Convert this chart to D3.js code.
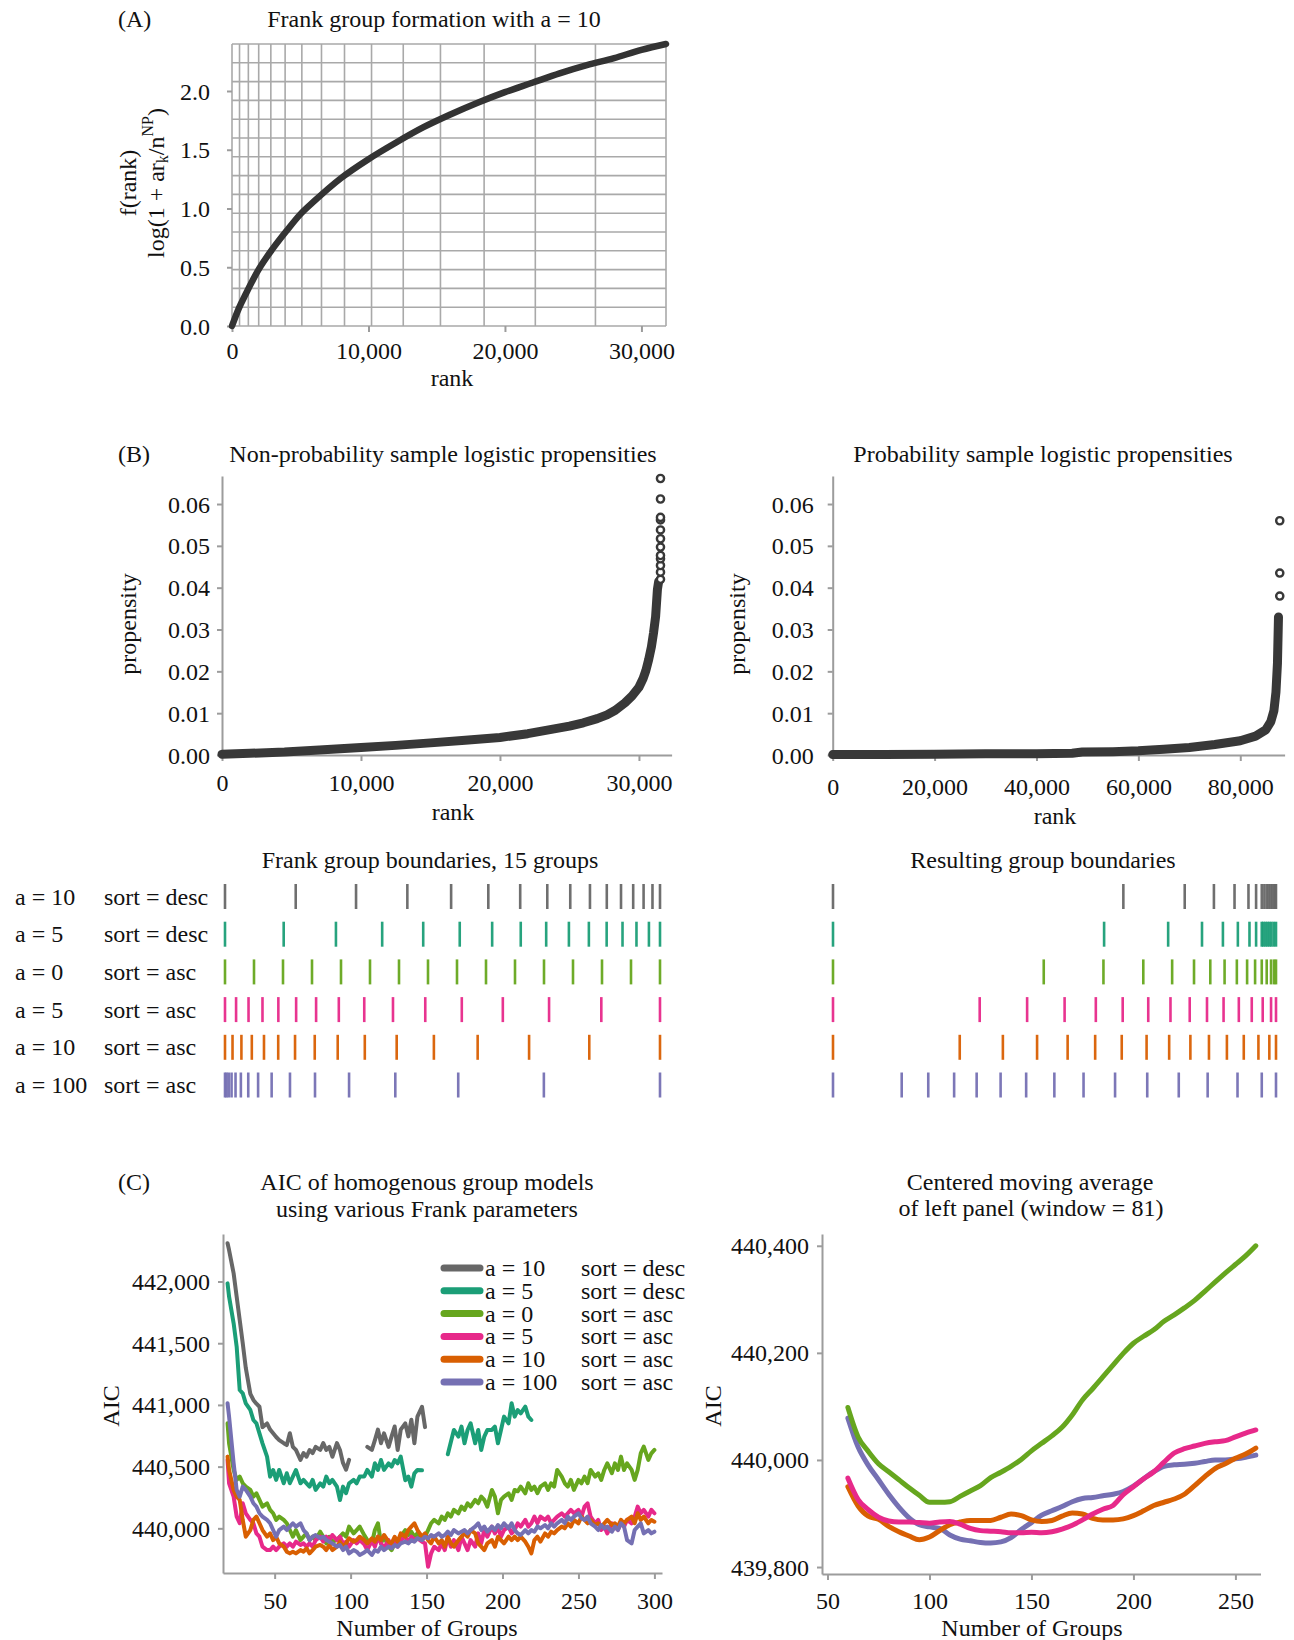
<!DOCTYPE html>
<html><head><meta charset="utf-8">
<script src="https://cdn.jsdelivr.net/npm/d3@7"></script>
<style>
body{margin:0;background:#fff;}
svg text{font-family:"Liberation Serif","Times New Roman",Times,serif;fill:#111;}
</style></head><body>
<svg id="chart" width="1294" height="1640" xmlns="http://www.w3.org/2000/svg"></svg>
<script>
// ---------------- DATA ----------------
// Panel A: Frank curve f(rank) = log(1 + a r / n), a = 10
const frankCurveRank = [0,500,1000,2000,3000,4000,5000,6000,8000,10000,12000,14000,16000,18000,20000,22000,24000,26000,28000,30000,31800];
const frankCurveF    = [0,0.15,0.27,0.49,0.66,0.81,0.95,1.06,1.26,1.42,1.56,1.69,1.80,1.90,1.99,2.07,2.15,2.22,2.28,2.35,2.40];
const gridRankA = [0,551,1198,1956,2846,3892,5117,6557,8243,10224,12548,15274,18473,22225,26629,31800];
const gridFA = [0,0.16,0.32,0.48,0.64,0.80,0.96,1.12,1.28,1.44,1.60,1.76,1.92,2.08,2.24,2.40];
const ticksAX = [0,10000,20000,30000];
const ticksAY = [0,0.5,1.0,1.5,2.0];

// Panel B: propensity scatter (band anchors + isolated outliers)
const npRank = [0,2000,4500,7000,10000,12500,15000,17500,20000,22000,23000,24000,25000,26000,27000,27700,28300,29000,29500,30000,30300,30500,30700,30900,31050,31200,31330,31420];
const npProp = [0.0002,0.0004,0.0007,0.0012,0.0018,0.0023,0.0029,0.0035,0.0042,0.0051,0.0057,0.0063,0.0069,0.0077,0.0087,0.0096,0.0107,0.0125,0.0141,0.0162,0.0183,0.0202,0.0228,0.0259,0.0292,0.0331,0.0396,0.0415];
const npOutlierProp = [0.0420,0.0437,0.0453,0.0469,0.0477,0.0497,0.0517,0.0538,0.0562,0.0568,0.0612,0.0661];
const npOutlierRank = 31550;
const pRank = [0,10000,20000,30000,40000,47000,49000,55000,60000,65000,70000,75000,80000,83000,85000,86000,86600,87000,87300,87500];
const pProp = [0.0001,0.0001,0.0002,0.0003,0.0003,0.0004,0.0007,0.0008,0.0010,0.0014,0.0018,0.0025,0.0034,0.0045,0.0060,0.0080,0.0106,0.0150,0.0220,0.0330];
const pOutlierProp = [0.0380,0.0435,0.0560];
const pOutlierRank = 87750;
const ticksBY = [0,0.01,0.02,0.03,0.04,0.05,0.06];
const ticksBLX = [0,10000,20000,30000];
const ticksBRX = [0,20000,40000,60000,80000];

// Group boundary strips (ranks)
const seriesA = ["a = 10","a = 5","a = 0","a = 5","a = 10","a = 100"];
const seriesSort = ["sort = desc","sort = desc","sort = asc","sort = asc","sort = asc","sort = asc"];
const seriesColor = ["#676767","#1b9e77","#66a61e","#e7298a","#d95f02","#7570b3"];
const frankBounds = [
  [0,5170,9580,13330,16530,19250,21580,23560,25240,26680,27910,28950,29840,30600,31250,31800],
  [0,4290,8110,11490,14490,17160,19530,21620,23480,25140,26600,27900,29060,30080,30990,31800],
  [0,2120,4240,6360,8480,10600,12720,14840,16960,19080,21200,23320,25440,27560,29680,31800],
  [0,810,1720,2740,3900,5200,6660,8320,10180,12280,14640,17310,20310,23690,27510,31800],
  [0,550,1200,1960,2850,3890,5120,6560,8240,10220,12550,15270,18470,22230,26630,31800],
  [0,115,270,480,770,1160,1700,2420,3410,4750,6580,9070,12450,17050,23310,31800]
];
const resultBounds = [
  [0,57480,69630,75410,79490,82250,83760,84880,85400,85860,86250,86650,86980,87310,87570,87700],
  [0,53670,66350,73050,77190,80150,82450,83760,84880,85200,85600,85990,86380,86780,87240,87700],
  [0,41720,53540,61430,67140,71470,74690,77520,79950,81980,83560,84880,85860,86720,87310,87700],
  [0,29040,38430,45850,52030,57350,62410,66810,70620,74040,77320,80340,82900,85070,86720,87700],
  [0,25090,33630,40400,46450,51900,57160,62080,66550,70750,74430,77980,81320,84220,86380,87700],
  [0,13600,18860,23980,28440,33180,38240,43820,49600,55840,62210,68450,74170,80080,84880,87700]
];

// Panel C left: AIC by number of groups (null = no value)
const groupsC = [19,20,23,25,27,29,31,34,36,38,40,42,45,47,49,51,53,56,58,60,62,64,67,69,71,73,75,77,80,82,84,86,88,91,93,95,97,99,102,104,106,109,
 111,114,116,118,120,122,125,127,129,131,133,136,138,140,142,144,147,149,151,153,155,158,160,162,164,166,168,171,173,175,177,179,182,184,186,188,190,193,195,197,199,201,204,206,
 208,210,212,215,217,219,221,223,225,228,230,232,234,236,239,241,243,245,247,250,252,254,256,258,261,263,265,267,269,272,274,276,278,280,282,285,287,289,291,293,296,298,300];
const aicA10desc = [442310,442255,442066,441877,441688,441500,441300,441090,441040,441010,440985,440820,440850,440800,440770,440740,440715,440690,440675,440770,440660,440635,440555,440610,440580,440635,440610,440660,440635,440690,440635,440660,440580,440690,440635,440530,440475,440555,null,null,null,null,
 440660,440635,440715,440800,440690,440770,440660,440745,440825,440635,440800,440850,440745,440880,440690,440905,440985,440820];
const aicA5desc = [441985,441877,441661,441472,441121,441094,441013,440959,440878,440851,440770,440689,440581,440419,440473,440392,440473,440365,440446,440365,440419,440473,440365,440392,440365,440338,440392,440311,440365,440338,440419,440365,440392,440338,440230,440338,440284,440365,440392,440365,440419,440420,
 440473,440419,440527,440473,440554,440473,440527,440500,440554,440527,440581,440390,440419,440338,440446,440473,440470,null,null,null,null,null,null,null,440600,440700,440797,440743,440824,440689,440797,440851,440689,440797,440635,440743,440797,440797,440824,440689,440797,440905,440851,441013,
 440905,440959,440932,440986,440905,440878];
const aicA0asc = [440851,440689,440473,440392,440419,440365,440338,440311,440257,440284,440230,440176,440203,440149,440122,440068,440095,440068,440041,439986,439932,439986,439905,439932,439959,439905,439932,439905,439973,439932,439878,439932,439892,439905,439932,439959,439932,440014,439959,439986,440014,439945,
 439905,439878,439986,440041,439878,439932,439851,439824,439878,439905,439932,439986,439946,439973,439932,439959,439905,439932,439986,440041,440068,440041,440095,440068,440122,440095,440149,440122,440176,440149,440203,440176,440230,440203,440257,440230,440176,440311,440257,440122,440230,440257,440284,440230,
 440311,440300,440338,440284,440365,440311,440338,440284,440338,440365,440311,440365,440338,440473,440419,440365,440338,440392,440311,440392,440365,440419,440365,440473,440419,440446,440392,440473,440527,440446,440527,440473,440581,440473,440527,440473,440392,440473,440608,440662,440554,440608,440635];
const aicA5asc = [440554,440365,440257,440095,440041,440203,440122,440068,440041,439959,439932,439851,439824,439824,439851,439824,439851,439878,439851,439878,439851,439892,439865,439878,439851,439878,439851,439905,439932,439892,439932,439905,439946,439905,439932,439878,439892,439851,439905,439878,439905,439870,
 439824,439905,439851,439932,439878,439838,439905,439851,439892,439851,439905,439932,439892,439932,439905,439919,439892,439878,439689,439797,439851,439824,439878,439824,439932,439851,439905,439824,439932,439878,439824,439905,439851,439959,439878,439986,439932,440014,439959,440014,439932,439986,440014,439959,
 439986,440041,440014,440068,440014,440041,440095,440041,440095,440068,440095,440041,440068,440095,440122,440095,440122,440149,440122,440149,440095,440176,440203,440095,440041,440068,439986,440014,439959,440041,440014,439986,440041,440014,440068,440041,440095,440176,440122,440149,440095,440149,440122];
const aicA10asc = [440581,440473,440311,440257,440230,440068,439932,439986,440068,440095,440041,439986,439932,439959,439905,439932,439878,439851,439811,439797,439811,439797,439824,439811,439838,439797,439824,439851,439865,439851,439824,439865,439824,439851,439892,439851,439878,439919,439892,439905,439932,439905,
 439878,439919,439892,439932,439905,439946,439892,439878,439932,439892,439959,439932,439986,440014,440041,439986,439932,439959,439905,439878,439932,439878,439905,439851,439932,439878,439851,439905,439932,439959,439932,439986,439959,439878,439851,439824,439878,439905,439851,439932,439905,439878,439932,439905,
 439932,439905,439932,439892,439851,439797,439905,439932,439892,439959,439932,439973,439959,439986,440014,440000,440041,440014,440068,440041,440095,440068,440041,440068,440027,440041,440014,440041,440068,440027,440041,440014,440068,440041,440068,440095,440041,440122,440068,440095,440041,440068,440054];
const aicA100asc = [441013,440905,440527,440311,440257,440338,440311,440257,440203,440176,440122,440095,440068,440041,439986,439932,439986,440014,439986,440014,440041,440014,440041,439986,439959,439905,439932,439946,439919,439932,439905,439892,439878,439851,439865,439824,439851,439797,439824,439811,439784,439805,
 439824,439784,439824,439811,439851,439824,439851,439838,439865,439851,439878,439892,439878,439905,439892,439919,439905,439932,439919,439946,439932,439959,439932,439946,439973,439946,439986,439959,439973,439986,439959,439986,440014,440041,439986,440014,439973,440014,439986,440027,440000,440041,440000,440041,
 439986,439959,439946,439986,439959,439986,439973,440014,440000,440027,440000,440041,440014,440041,440068,440041,440095,440068,440095,440122,440081,440068,440095,440041,440014,439986,440027,440000,440014,439973,440014,439986,440041,440014,439905,439878,439986,440014,440041,439959,439986,439959,439973];
const ticksCLX = [50,100,150,200,250,300];
const ticksCLY = [440000,440500,441000,441500,442000];

// Panel C right: centered moving average (window = 81)
const maGroups = [60,65,70,75,80,85,90,95,100,105,110,115,120,125,130,135,140,145,150,155,160,165,170,175,180,185,190,195,200,205,210,215,220,225,230,235,240,245,250,255,260];
const maA0asc = [440098,440043,440016,439993,439978,439963,439948,439934,439921,439921,439922,439932,439942,439952,439967,439977,439988,440001,440017,440031,440045,440061,440084,440112,440133,440155,440177,440199,440218,440231,440243,440259,440271,440284,440298,440315,440332,440349,440365,440381,440400];
const maA100asc = [440078,440024,439990,439963,439936,439912,439892,439879,439875,439872,439860,439852,439849,439846,439845,439847,439855,439870,439883,439897,439905,439913,439922,439928,439930,439933,439936,439941,439951,439965,439978,439988,439991,439992,439994,439997,440000,440000,440002,440005,440009];
const maA5asc = [439966,439926,439907,439893,439886,439884,439884,439883,439882,439884,439885,439880,439872,439868,439867,439866,439864,439864,439865,439864,439866,439871,439878,439888,439899,439908,439915,439935,439950,439965,439978,439996,440013,440021,440026,440031,440034,440036,440043,440050,440056];
const maA10asc = [439950,439914,439895,439889,439876,439866,439858,439851,439856,439868,439879,439884,439887,439887,439887,439893,439899,439896,439888,439885,439887,439895,439901,439899,439891,439888,439888,439890,439896,439905,439915,439921,439927,439936,439952,439969,439984,439993,440003,440011,440022];
const ticksCRX = [50,100,150,200,250];
const ticksCRY = [439800,440000,440200,440400];

// ---------------- DRAWING ----------------
const FONT = '"Liberation Serif","Times New Roman",Times,serif';
const AXIS = '#9c9c9c';
const GRID = '#a9a9a9';
const DOT = '#383838';
const svg = d3.select('#chart');

function txt(x, y, s, o = {}) {
  const t = svg.append('text').attr('x', x).attr('y', y)
    .attr('text-anchor', o.anchor || 'middle')
    .attr('dominant-baseline', 'central')
    .attr('font-size', o.size || 24);
  if (o.rotate) t.attr('transform', `rotate(-90,${x},${y})`);
  if (s !== null) t.text(s);
  return t;
}
function styleAxis(g, hideDomain) {
  g.attr('font-family', FONT).attr('font-size', 24);
  g.selectAll('.domain').attr('stroke', hideDomain ? 'none' : AXIS).attr('stroke-width', 2);
  g.selectAll('.tick line').attr('stroke', AXIS).attr('stroke-width', 2);
  g.selectAll('.tick text').attr('fill', '#111');
}
function bottomAxis(scale, y, ticks, fmt, off, hideDomain) {
  const g = svg.append('g').attr('transform', `translate(0,${y})`)
    .call(d3.axisBottom(scale).tickValues(ticks).tickFormat(fmt).tickSize(6).tickSizeOuter(0));
  styleAxis(g, hideDomain);
  g.selectAll('.tick text').attr('dy', null).attr('y', off).attr('dominant-baseline', 'central');
  return g;
}
function leftAxis(scale, x, ticks, fmt, pad, hideDomain) {
  const g = svg.append('g').attr('transform', `translate(${x},0)`)
    .call(d3.axisLeft(scale).tickValues(ticks).tickFormat(fmt).tickSize(5).tickPadding(pad).tickSizeOuter(0));
  styleAxis(g, hideDomain);
  g.selectAll('.tick text').attr('dy', null).attr('dominant-baseline', 'central');
  return g;
}

// ===== Panel A =====
const xA = d3.scaleLinear().domain([0, 31800]).range([232, 666]);
const yA = d3.scaleLinear().domain([0, 2.4]).range([326, 44]);
svg.append('g').selectAll('line').data(gridRankA).join('line')
  .attr('x1', d => xA(d)).attr('x2', d => xA(d)).attr('y1', yA(0)).attr('y2', yA(2.4))
  .attr('stroke', GRID).attr('stroke-width', 1.6);
svg.append('g').selectAll('line').data(gridFA).join('line')
  .attr('y1', d => yA(d)).attr('y2', d => yA(d)).attr('x1', xA(0)).attr('x2', xA(31800))
  .attr('stroke', GRID).attr('stroke-width', 1.6);
bottomAxis(xA, yA(0), ticksAX, d3.format(','), 25, true);
leftAxis(yA, xA(0), ticksAY, d3.format('.1f'), 17, true);
svg.append('path').datum(frankCurveRank.map((r, i) => [r, frankCurveF[i]]))
  .attr('d', d3.line().x(d => xA(d[0])).y(d => yA(d[1])).curve(d3.curveMonotoneX))
  .attr('fill', 'none').attr('stroke', '#333').attr('stroke-width', 6.5).attr('stroke-linecap', 'round');
txt(118, 19, '(A)', {anchor: 'start'});
txt(434, 19, 'Frank group formation with a = 10');
txt(452, 378, 'rank');
txt(128, 183, 'f(rank)', {rotate: true});
{
  const t = txt(156, 183, null, {rotate: true});
  t.append('tspan').text('log(1 + ar');
  t.append('tspan').attr('dy', 6).attr('font-size', 16).text('k');
  t.append('tspan').attr('dy', -6).text('/n');
  t.append('tspan').attr('dy', -9).attr('font-size', 16).text('NP');
  t.append('tspan').attr('dy', 9).text(')');
}

// ===== Panel B scatter =====
const yB = d3.scaleLinear().domain([0, 0.0667]).range([755, 476]);
const xBL = d3.scaleLinear().domain([0, 32350]).range([222, 671.6]);
const xBR = d3.scaleLinear().domain([0, 88700]).range([832.7, 1284.6]);

function scatterPanel(xs, ranks, props, outRank, outProps, yTickPad, xLabOff) {
  bottomAxis(xs, yB(0), xs === xBL ? ticksBLX : ticksBRX, d3.format(','), xLabOff, false);
  leftAxis(yB, xs.range()[0], ticksBY, d3.format('.2f'), yTickPad, false);
  svg.append('path').datum(ranks.map((r, i) => [r, props[i]]))
    .attr('d', d3.line().x(d => xs(d[0])).y(d => yB(d[1])))
    .attr('fill', 'none').attr('stroke', DOT).attr('stroke-width', 9)
    .attr('stroke-linecap', 'round').attr('stroke-linejoin', 'round');
  svg.append('g').selectAll('circle').data(outProps).join('circle')
    .attr('cx', xs(outRank)).attr('cy', d => yB(d)).attr('r', 3.6)
    .attr('fill', '#fff').attr('stroke', DOT).attr('stroke-width', 2.4);
}
scatterPanel(xBL, npRank, npProp, npOutlierRank, npOutlierProp, 7, 28);
scatterPanel(xBR, pRank, pProp, pOutlierRank, pOutlierProp, 14, 32);
txt(118, 454, '(B)', {anchor: 'start'});
txt(443, 454, 'Non-probability sample logistic propensities');
txt(1043, 454, 'Probability sample logistic propensities');
txt(128, 624, 'propensity', {rotate: true});
txt(737, 624, 'propensity', {rotate: true});
txt(453, 812, 'rank');
txt(1055, 816, 'rank');

// ===== Boundary strips =====
const rowY = d3.scalePoint().domain(d3.range(6)).range([896.5, 1085]);
const xBndL = d3.scaleLinear().domain([0, 31800]).range([225, 660]);
const xBndR = d3.scaleLinear().domain([0, 87700]).range([833, 1276]);
function strips(bounds, xs) {
  bounds.forEach((row, i) => {
    svg.append('g').selectAll('line').data(row).join('line')
      .attr('x1', d => xs(d)).attr('x2', d => xs(d))
      .attr('y1', rowY(i) - 12.5).attr('y2', rowY(i) + 12.5)
      .attr('stroke', seriesColor[i]).attr('stroke-width', 2.6).attr('stroke-opacity', 0.95);
  });
}
strips(frankBounds, xBndL);
strips(resultBounds, xBndR);
seriesA.forEach((s, i) => {
  txt(15, rowY(i), s, {anchor: 'start'});
  txt(104, rowY(i), seriesSort[i], {anchor: 'start'});
});
txt(430, 860, 'Frank group boundaries, 15 groups');
txt(1043, 860, 'Resulting group boundaries');

// ===== Panel C left =====
const xCL = d3.scaleLinear().domain([16, 305]).range([223, 662]);
const yCL = d3.scaleLinear().domain([439638, 442385]).range([1573, 1234]);
bottomAxis(xCL, 1573, ticksCLX, d3.format('d'), 28, false);
leftAxis(yCL, 223, ticksCLY, d3.format(','), 8, false);
const aicSeries = [aicA10desc, aicA5desc, aicA0asc, aicA5asc, aicA10asc, aicA100asc];
const lineCL = d3.line().defined(d => d[1] != null).x(d => xCL(d[0])).y(d => yCL(d[1]));
aicSeries.forEach((vals, i) => {
  svg.append('path').datum(groupsC.map((g, j) => [g, vals[j]]))
    .attr('d', lineCL).attr('fill', 'none').attr('stroke', seriesColor[i])
    .attr('stroke-width', 4).attr('stroke-linejoin', 'round').attr('stroke-linecap', 'round');
});
// legend
const legY = d3.scalePoint().domain(d3.range(6)).range([1268, 1382]);
seriesA.forEach((s, i) => {
  svg.append('line').attr('x1', 444).attr('x2', 480).attr('y1', legY(i)).attr('y2', legY(i))
    .attr('stroke', seriesColor[i]).attr('stroke-width', 7).attr('stroke-linecap', 'round');
  txt(485, legY(i), s, {anchor: 'start'});
  txt(581, legY(i), seriesSort[i], {anchor: 'start'});
});
txt(118, 1182, '(C)', {anchor: 'start'});
txt(427, 1182, 'AIC of homogenous group models');
txt(427, 1209, 'using various Frank parameters');
txt(111, 1406, 'AIC', {rotate: true});
txt(427, 1628, 'Number of Groups');

// ===== Panel C right =====
const xCR = d3.scaleLinear().domain([47.3, 262.3]).range([822, 1260.5]);
const yCR = d3.scaleLinear().domain([439787, 440422]).range([1574, 1234]);
bottomAxis(xCR, 1574, ticksCRX, d3.format('d'), 27, false);
leftAxis(yCR, 822, ticksCRY, d3.format(','), 8, false);
const maSeries = [[maA100asc, 5], [maA10asc, 4], [maA5asc, 3], [maA0asc, 2]];
const lineCR = d3.line().x(d => xCR(d[0])).y(d => yCR(d[1])).curve(d3.curveMonotoneX);
maSeries.forEach(([vals, ci]) => {
  svg.append('path').datum(maGroups.map((g, j) => [g, vals[j]]))
    .attr('d', lineCR).attr('fill', 'none').attr('stroke', seriesColor[ci])
    .attr('stroke-width', 5).attr('stroke-linejoin', 'round').attr('stroke-linecap', 'round');
});
txt(1030, 1182, 'Centered moving average');
txt(1031, 1208, 'of left panel (window = 81)');
txt(713, 1406, 'AIC', {rotate: true});
txt(1032, 1628, 'Number of Groups');
</script>
</body></html>
